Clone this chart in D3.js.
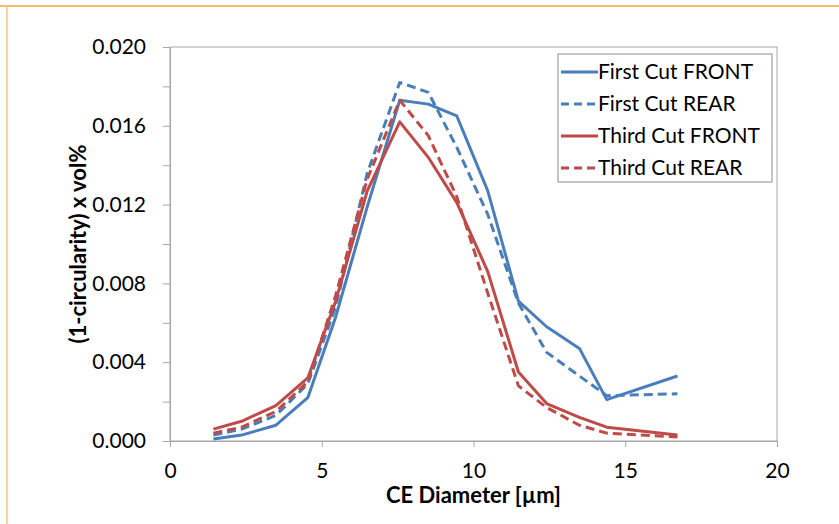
<!DOCTYPE html>
<html>
<head>
<meta charset="utf-8">
<script src="https://cdn.jsdelivr.net/npm/d3@7"></script>
<style>
  body { margin: 0; background: #fff; }
  text { font-family: Lato, "Open Sans", sans-serif; fill: #000; }
</style>
</head>
<body>
<div id="chart"></div>
<script>
/* CONSTANTS AND GLOBALS */
const width = 839,
  height = 524,
  margin = { top: 47, bottom: 83, left: 170, right: 62 };

// CE diameter bin centres (µm)
const diameters = [1.43, 2.36, 3.49, 4.54, 5.46, 6.5, 7.57, 8.51, 9.45, 10.47, 11.48, 12.41, 13.49, 14.39, 16.72];

const firstFront = [0.0001, 0.0003, 0.0008, 0.0022, 0.0063, 0.0119, 0.0173, 0.0171, 0.0165, 0.0127, 0.0071, 0.0058, 0.0047, 0.0021, 0.0033];
const firstRear = [0.0003, 0.0006, 0.0013, 0.0029, 0.0068, 0.0136, 0.0182, 0.0177, 0.0149, 0.0115, 0.0070, 0.0045, 0.0033, 0.0023, 0.0024];
const thirdFront = [0.0006, 0.0010, 0.0018, 0.0032, 0.0071, 0.0127, 0.0162, 0.0144, 0.0121, 0.0086, 0.0035, 0.0019, 0.0012, 0.0007, 0.0003];
const thirdRear = [0.0004, 0.0007, 0.0015, 0.0030, 0.0074, 0.0133, 0.0173, 0.0155, 0.0124, 0.0075, 0.0028, 0.0017, 0.0008, 0.0004, 0.0002];

const seriesNames = ["First Cut FRONT", "First Cut REAR", "Third Cut FRONT", "Third Cut REAR"];
const seriesValues = [firstFront, firstRear, thirdFront, thirdRear];

const xTicks = [0, 5, 10, 15, 20];
const yTicks = [0, 0.002, 0.004, 0.006, 0.008, 0.010, 0.012, 0.014, 0.016, 0.018, 0.020];

const blue = "#4a7ebb", red = "#be4b48";
const styles = [
  { color: blue, dash: null },
  { color: blue, dash: "9,5" },
  { color: red, dash: null },
  { color: red, dash: "9,5" }
];

const svg = d3.select("#chart")
  .append("svg")
  .attr("width", width)
  .attr("height", height);

// orange frame of the figure (top and left edges)
svg.append("line")
  .attr("x1", 0).attr("x2", width).attr("y1", 6).attr("y2", 6)
  .attr("stroke", "#f5a33d").attr("stroke-width", 1.5);
svg.append("line")
  .attr("x1", 7).attr("x2", 7).attr("y1", 6).attr("y2", height)
  .attr("stroke", "#f8c07e").attr("stroke-width", 1.5);

/* SCALES */
const xScale = d3.scaleLinear()
  .domain([0, 20])
  .range([margin.left, width - margin.right]);

const yScale = d3.scaleLinear()
  .domain([0, 0.020])
  .range([height - margin.bottom, margin.top]);

// plot area border
svg.append("rect")
  .attr("x", xScale(0))
  .attr("y", yScale(0.020))
  .attr("width", xScale(20) - xScale(0))
  .attr("height", yScale(0) - yScale(0.020))
  .attr("fill", "none")
  .attr("stroke", "#a6a6a6")
  .attr("stroke-width", 1);

/* AXES */
const xAxis = d3.axisBottom(xScale)
  .tickValues(xTicks)
  .tickSize(6)
  .tickPadding(16)
  .tickFormat(d3.format("d"));

const yAxis = d3.axisLeft(yScale)
  .tickValues(yTicks)
  .tickSize(7)
  .tickPadding(17)
  .tickFormat(d => (Math.round(d * 1000) % 4 === 0 ? d3.format(".3f")(d) : ""));

svg.append("g")
  .attr("class", "axis x-axis")
  .attr("transform", `translate(0, ${yScale(0)})`)
  .call(xAxis)
  .call(g => g.select(".domain").attr("stroke", "#a6a6a6"))
  .call(g => g.selectAll(".tick line").attr("stroke", "#a6a6a6"))
  .call(g => g.selectAll(".tick text").attr("font-size", 21).attr("font-family", "Lato"));

svg.append("g")
  .attr("class", "axis y-axis")
  .attr("transform", `translate(${xScale(0)}, 0)`)
  .call(yAxis)
  .call(g => g.select(".domain").attr("stroke", "#a6a6a6"))
  .call(g => g.selectAll(".tick line").attr("stroke", "#a6a6a6"))
  .call(g => g.selectAll(".tick text").attr("font-size", 21).attr("font-family", "Lato"));

// axis titles
svg.append("text")
  .attr("x", (xScale(0) + xScale(20)) / 2)
  .attr("y", 503)
  .attr("text-anchor", "middle")
  .attr("font-size", 22)
  .attr("font-weight", "bold")
  .text("CE Diameter [µm]");

svg.append("text")
  .attr("transform", `translate(86, ${(yScale(0) + yScale(0.020)) / 2}) rotate(-90)`)
  .attr("text-anchor", "middle")
  .attr("font-size", 22)
  .attr("font-weight", "bold")
  .text("(1-circularity) x vol%");

/* LINES */
const lineFunc = d3.line()
  .x(d => xScale(d[0]))
  .y(d => yScale(d[1]));

seriesValues.forEach((vals, i) => {
  svg.append("path")
    .datum(diameters.map((x, j) => [x, vals[j]]))
    .attr("fill", "none")
    .attr("stroke", styles[i].color)
    .attr("stroke-width", 3)
    .attr("stroke-linejoin", "round")
    .attr("stroke-dasharray", styles[i].dash)
    .attr("d", lineFunc);
});

/* LEGEND */
const legend = svg.append("g").attr("transform", "translate(558, 54)");
legend.append("rect")
  .attr("width", 214)
  .attr("height", 128)
  .attr("fill", "#fff")
  .attr("stroke", "#8c8c8c")
  .attr("stroke-width", 1);

const items = legend.selectAll("g.item")
  .data(seriesNames)
  .join("g")
  .attr("class", "item")
  .attr("transform", (d, i) => `translate(0, ${18 + i * 32})`);

items.append("line")
  .attr("x1", 3).attr("x2", 40)
  .attr("stroke", (d, i) => styles[i].color)
  .attr("stroke-width", 3)
  .attr("stroke-dasharray", (d, i) => styles[i].dash ? "8,5" : null);

items.append("text")
  .attr("x", 40)
  .attr("dy", "0.35em")
  .attr("font-size", 21)
  .text(d => d);
</script>
</body>
</html>
